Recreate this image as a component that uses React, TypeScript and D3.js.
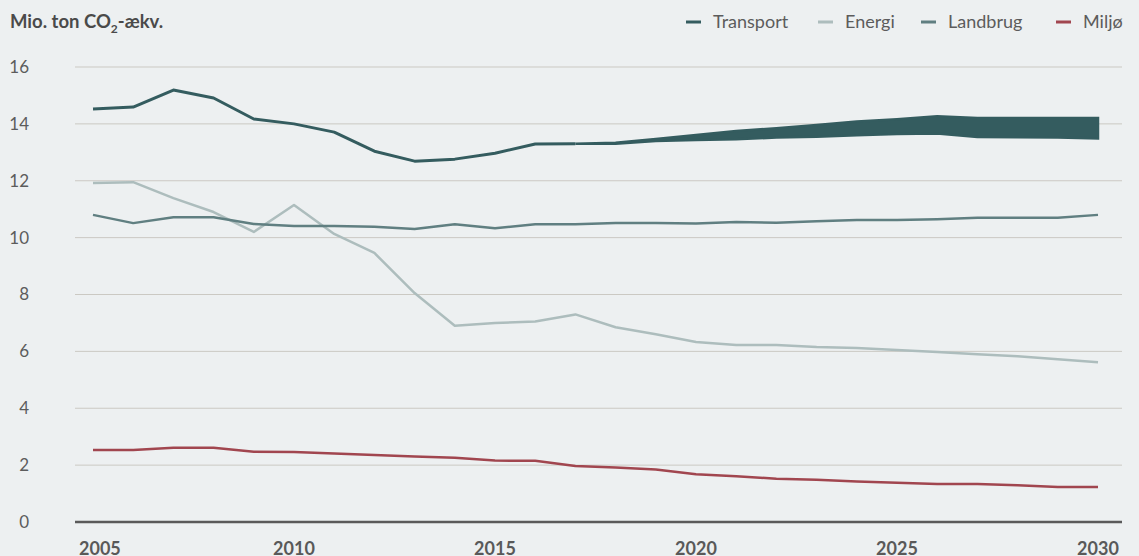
import React, { useRef, useEffect } from "react";
import * as d3 from "d3";

const years = d3.range(2005, 2031);

const transport = [
  14.52, 14.59, 15.19, 14.91, 14.17, 14.0, 13.71, 13.04, 12.69, 12.76, 12.97,
  13.29, 13.3,
];
// projection band 2017-2030 (upper / lower)
const bandYears = d3.range(2017, 2031);
const transportHigh = [
  13.3, 13.34, 13.47, 13.61, 13.75, 13.85, 13.96, 14.08, 14.16, 14.27, 14.21,
  14.21, 14.21, 14.21,
];
const transportLow = [
  13.3, 13.3, 13.4, 13.43, 13.46, 13.52, 13.55, 13.6, 13.64, 13.66, 13.54,
  13.53, 13.52, 13.49,
];
const energi = [
  11.92, 11.95, 11.39, 10.9, 10.2, 11.15, 10.13, 9.46, 8.05, 6.9, 7.0, 7.05,
  7.3, 6.85, 6.6, 6.33, 6.22, 6.22, 6.15, 6.12, 6.05, 5.98, 5.9, 5.83, 5.72,
  5.62,
];
const landbrug = [
  10.8, 10.51, 10.72, 10.72, 10.48, 10.41, 10.41, 10.38, 10.3, 10.47, 10.33,
  10.47, 10.47, 10.51, 10.51, 10.5, 10.55, 10.52, 10.58, 10.62, 10.62, 10.65,
  10.7, 10.7, 10.7, 10.8,
];
const miljo = [
  2.53, 2.53, 2.61, 2.61, 2.47, 2.46, 2.41, 2.36, 2.3, 2.26, 2.16, 2.15, 1.97,
  1.92, 1.85, 1.68, 1.61, 1.52, 1.49, 1.42, 1.38, 1.34, 1.34, 1.29, 1.23, 1.23,
];

const yTicks = [0, 2, 4, 6, 8, 10, 12, 14, 16];
const xTicks = [2005, 2010, 2015, 2020, 2025, 2030];

const legend = [
  { name: "Transport", color: "#345c5f" },
  { name: "Energi", color: "#adbdbd" },
  { name: "Landbrug", color: "#607f81" },
  { name: "Miljø", color: "#a1464f" },
];

const App: React.FC = () => {
  const ref = useRef<SVGSVGElement>(null);

  useEffect(() => {
    const svg = d3.select(ref.current);
    svg.selectAll("*").remove();

    const width = 1139,
      height = 556;
    const font = "Lato, 'Open Sans', sans-serif";

    svg
      .append("rect")
      .attr("width", width)
      .attr("height", height)
      .attr("fill", "#edf0f1");

    const x = d3.scaleLinear().domain([2005, 2030]).range([93, 1098]);
    const y = d3.scaleLinear().domain([0, 16]).range([522, 67]);
    const gridLeft = 75,
      gridRight = 1122;

    // grid
    svg
      .append("g")
      .selectAll("line")
      .data(yTicks.filter((d) => d > 0))
      .enter()
      .append("line")
      .attr("x1", gridLeft)
      .attr("x2", gridRight)
      .attr("y1", (d) => y(d))
      .attr("y2", (d) => y(d))
      .attr("stroke", "#cbc9c3")
      .attr("stroke-width", 1);

    // y labels
    svg
      .append("g")
      .selectAll("text")
      .data(yTicks)
      .enter()
      .append("text")
      .attr("x", 29)
      .attr("y", (d) => y(d))
      .attr("dy", "0.35em")
      .attr("text-anchor", "end")
      .style("font-family", font)
      .style("font-size", "17px")
      .style("fill", "#5c5c5c")
      .text((d) => d);

    // x axis line
    svg
      .append("line")
      .attr("x1", gridLeft)
      .attr("x2", gridRight)
      .attr("y1", y(0))
      .attr("y2", y(0))
      .attr("stroke", "#5a5a5a")
      .attr("stroke-width", 2.5);

    // x labels
    svg
      .append("g")
      .selectAll("text")
      .data(xTicks)
      .enter()
      .append("text")
      .attr("x", (d, i) => (i === 0 ? gridLeft + 4 : x(d)))
      .attr("y", 555)
      .attr("text-anchor", (d, i) => (i === 0 ? "start" : "middle"))
      .style("font-family", font)
      .style("font-size", "18px")
      .style("font-weight", "bold")
      .style("fill", "#595959")
      .text((d) => d);

    const line = d3
      .line<number>()
      .x((d, i) => x(years[i]))
      .y((d) => y(d));

    const drawLine = (data: number[], color: string, w: number) =>
      svg
        .append("path")
        .datum(data)
        .attr("fill", "none")
        .attr("stroke", color)
        .attr("stroke-width", w)
        .attr("stroke-linejoin", "round")
        .attr("d", line);

    drawLine(miljo, legend[3].color, 2.5);
    drawLine(energi, legend[1].color, 2.5);
    drawLine(landbrug, legend[2].color, 2.5);
    drawLine(transport, legend[0].color, 3);

    // transport band
    const area = d3
      .area<number>()
      .x((d, i) => x(bandYears[i]))
      .y0((d, i) => y(transportLow[i]))
      .y1((d) => y(d));
    svg
      .append("path")
      .datum(transportHigh)
      .attr("fill", legend[0].color)
      .attr("stroke", legend[0].color)
      .attr("stroke-width", 2.5)
      .attr("stroke-linejoin", "miter")
      .attr("d", area);

    // title
    const title = svg
      .append("text")
      .attr("x", 10)
      .attr("y", 28)
      .style("font-family", font)
      .style("font-size", "18.5px")
      .style("font-weight", "bold")
      .style("fill", "#4a4a4a");
    title.append("tspan").text("Mio. ton CO");
    title
      .append("tspan")
      .attr("dy", 5)
      .style("font-size", "12px")
      .text("2");
    title.append("tspan").attr("dy", -5).text("-ækv.");

    // legend
    const legendX = [686, 818, 921, 1056];
    const lg = svg
      .append("g")
      .selectAll("g")
      .data(legend)
      .enter()
      .append("g")
      .attr("transform", (d, i) => `translate(${legendX[i]},22)`);
    lg.append("line")
      .attr("x1", 0)
      .attr("x2", 15)
      .attr("stroke", (d) => d.color)
      .attr("stroke-width", 3);
    lg.append("text")
      .attr("x", 27)
      .attr("dy", "0.35em")
      .style("font-family", font)
      .style("font-size", "18px")
      .style("fill", "#5c5c5c")
      .text((d) => d.name);
  }, []);

  return (
    <svg
      ref={ref}
      width={1139}
      height={556}
      style={{ position: "absolute", left: 0, top: 0, display: "block" }}
    />
  );
};

export default App;
